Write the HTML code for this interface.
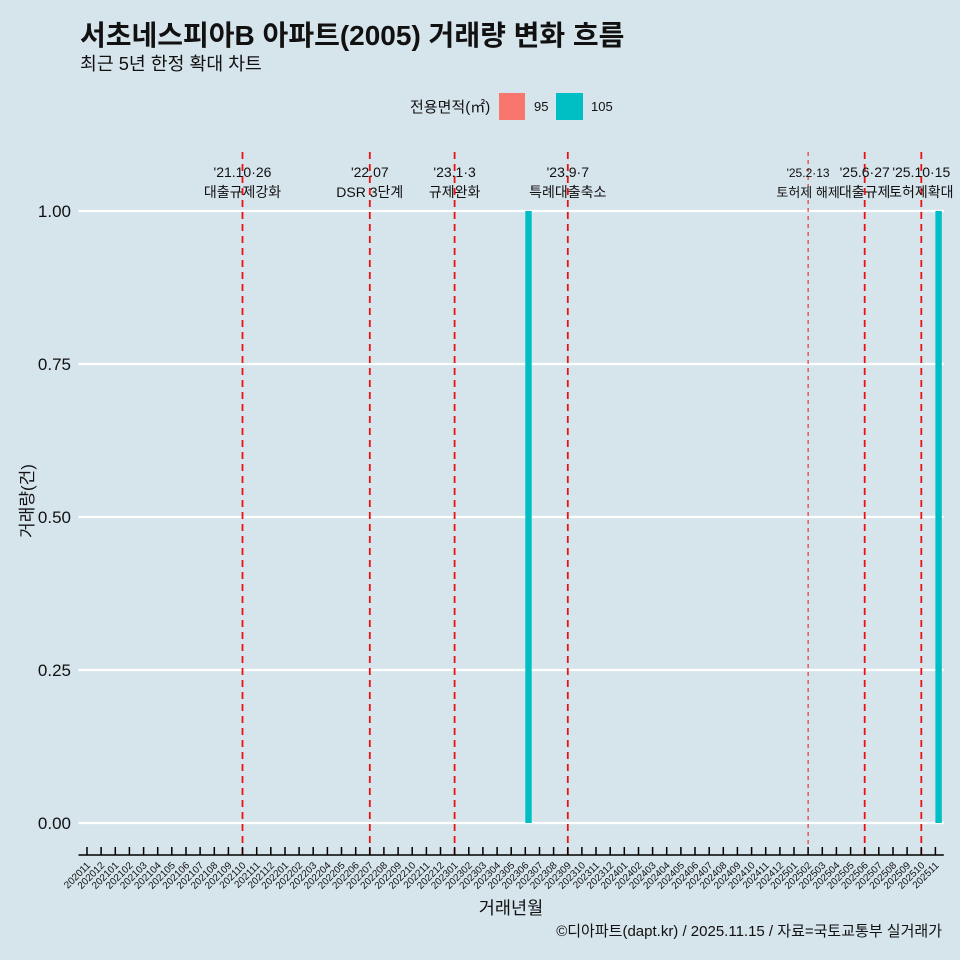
<!DOCTYPE html>
<html><head><meta charset="utf-8"><style>
html,body{margin:0;padding:0;background:#d6e4eb;}
svg{display:block;}
text{font-family:"Liberation Sans","Noto Sans CJK KR",sans-serif;fill:#111;}
</style></head><body>
<svg width="960" height="960" viewBox="0 0 960 960" xmlns="http://www.w3.org/2000/svg">
<rect width="960" height="960" fill="#d6e4eb"/>
<text x="80" y="45" font-size="28" font-weight="bold" fill="#000">서초네스피아B 아파트(2005) 거래량 변화 흐름</text>
<text x="80" y="70" font-size="18.3">최근 5년 한정 확대 차트</text>
<text x="410" y="112" font-size="15">전용면적(㎡)</text>
<rect x="499" y="93" width="26" height="27" fill="#F8766D"/>
<text x="534" y="111" font-size="13">95</text>
<rect x="556" y="93" width="27" height="27" fill="#00BFC4"/>
<text x="591" y="111" font-size="13">105</text>
<g stroke="#ffffff" stroke-width="2.2">
<line x1="78.5" y1="211" x2="943.8" y2="211"/>
<line x1="78.5" y1="364" x2="943.8" y2="364"/>
<line x1="78.5" y1="517" x2="943.8" y2="517"/>
<line x1="78.5" y1="670" x2="943.8" y2="670"/>
<line x1="78.5" y1="823" x2="943.8" y2="823"/>
</g>
<g font-size="17" text-anchor="end">
<text x="71" y="217">1.00</text>
<text x="71" y="370">0.75</text>
<text x="71" y="523">0.50</text>
<text x="71" y="676">0.25</text>
<text x="71" y="829">0.00</text>
</g>
<text transform="translate(33,501) rotate(-90)" font-size="17" text-anchor="middle">거래량(건)</text>
<rect x="525.3" y="211" width="6.4" height="612" fill="#00BFC4"/>
<rect x="935.4" y="211" width="6.4" height="612" fill="#00BFC4"/>
<g stroke="#ee1111" stroke-width="1.8" stroke-dasharray="7 5">
<line x1="242.5" y1="152" x2="242.5" y2="855"/>
<line x1="369.8" y1="152" x2="369.8" y2="855"/>
<line x1="454.6" y1="152" x2="454.6" y2="855"/>
<line x1="567.8" y1="152" x2="567.8" y2="855"/>
<line x1="864.7" y1="152" x2="864.7" y2="855"/>
<line x1="921.3" y1="152" x2="921.3" y2="855"/>
</g>
<line x1="808.1" y1="152" x2="808.1" y2="855" stroke="#ee1111" stroke-width="1" stroke-dasharray="4 4"/>
<g text-anchor="middle">
<text x="242.5" y="177" font-size="14">'21.10·26</text>
<text x="242.5" y="197" font-size="14">대출규제강화</text>
<text x="369.8" y="177" font-size="14">'22.07</text>
<text x="369.8" y="197" font-size="14">DSR 3단계</text>
<text x="454.6" y="177" font-size="14">'23.1·3</text>
<text x="454.6" y="197" font-size="14">규제완화</text>
<text x="567.8" y="177" font-size="14">'23.9·7</text>
<text x="567.8" y="197" font-size="14">특례대출축소</text>
<text x="808.1" y="177" font-size="12">'25.2·13</text>
<text x="808.1" y="197" font-size="13">토허제 해제</text>
<text x="864.7" y="177" font-size="14">'25.6·27</text>
<text x="864.7" y="197" font-size="14">대출규제</text>
<text x="921.3" y="177" font-size="14">'25.10·15</text>
<text x="921.3" y="197" font-size="14">토허제확대</text>
</g>
<line x1="78.5" y1="855" x2="943.8" y2="855" stroke="#000" stroke-width="1.5"/>
<g stroke="#000" stroke-width="1.5">
<line x1="87.0" y1="847" x2="87.0" y2="855"/><line x1="101.1" y1="847" x2="101.1" y2="855"/><line x1="115.3" y1="847" x2="115.3" y2="855"/><line x1="129.4" y1="847" x2="129.4" y2="855"/><line x1="143.6" y1="847" x2="143.6" y2="855"/><line x1="157.7" y1="847" x2="157.7" y2="855"/><line x1="171.8" y1="847" x2="171.8" y2="855"/><line x1="186.0" y1="847" x2="186.0" y2="855"/><line x1="200.1" y1="847" x2="200.1" y2="855"/><line x1="214.3" y1="847" x2="214.3" y2="855"/><line x1="228.4" y1="847" x2="228.4" y2="855"/><line x1="242.5" y1="847" x2="242.5" y2="855"/><line x1="256.7" y1="847" x2="256.7" y2="855"/><line x1="270.8" y1="847" x2="270.8" y2="855"/><line x1="285.0" y1="847" x2="285.0" y2="855"/><line x1="299.1" y1="847" x2="299.1" y2="855"/><line x1="313.2" y1="847" x2="313.2" y2="855"/><line x1="327.4" y1="847" x2="327.4" y2="855"/><line x1="341.5" y1="847" x2="341.5" y2="855"/><line x1="355.7" y1="847" x2="355.7" y2="855"/><line x1="369.8" y1="847" x2="369.8" y2="855"/><line x1="383.9" y1="847" x2="383.9" y2="855"/><line x1="398.1" y1="847" x2="398.1" y2="855"/><line x1="412.2" y1="847" x2="412.2" y2="855"/><line x1="426.4" y1="847" x2="426.4" y2="855"/><line x1="440.5" y1="847" x2="440.5" y2="855"/><line x1="454.6" y1="847" x2="454.6" y2="855"/><line x1="468.8" y1="847" x2="468.8" y2="855"/><line x1="482.9" y1="847" x2="482.9" y2="855"/><line x1="497.1" y1="847" x2="497.1" y2="855"/><line x1="511.2" y1="847" x2="511.2" y2="855"/><line x1="525.3" y1="847" x2="525.3" y2="855"/><line x1="539.5" y1="847" x2="539.5" y2="855"/><line x1="553.6" y1="847" x2="553.6" y2="855"/><line x1="567.8" y1="847" x2="567.8" y2="855"/><line x1="581.9" y1="847" x2="581.9" y2="855"/><line x1="596.0" y1="847" x2="596.0" y2="855"/><line x1="610.2" y1="847" x2="610.2" y2="855"/><line x1="624.3" y1="847" x2="624.3" y2="855"/><line x1="638.5" y1="847" x2="638.5" y2="855"/><line x1="652.6" y1="847" x2="652.6" y2="855"/><line x1="666.7" y1="847" x2="666.7" y2="855"/><line x1="680.9" y1="847" x2="680.9" y2="855"/><line x1="695.0" y1="847" x2="695.0" y2="855"/><line x1="709.2" y1="847" x2="709.2" y2="855"/><line x1="723.3" y1="847" x2="723.3" y2="855"/><line x1="737.4" y1="847" x2="737.4" y2="855"/><line x1="751.6" y1="847" x2="751.6" y2="855"/><line x1="765.7" y1="847" x2="765.7" y2="855"/><line x1="779.9" y1="847" x2="779.9" y2="855"/><line x1="794.0" y1="847" x2="794.0" y2="855"/><line x1="808.1" y1="847" x2="808.1" y2="855"/><line x1="822.3" y1="847" x2="822.3" y2="855"/><line x1="836.4" y1="847" x2="836.4" y2="855"/><line x1="850.6" y1="847" x2="850.6" y2="855"/><line x1="864.7" y1="847" x2="864.7" y2="855"/><line x1="878.8" y1="847" x2="878.8" y2="855"/><line x1="893.0" y1="847" x2="893.0" y2="855"/><line x1="907.1" y1="847" x2="907.1" y2="855"/><line x1="921.3" y1="847" x2="921.3" y2="855"/><line x1="935.4" y1="847" x2="935.4" y2="855"/>
</g>
<g font-size="10" text-anchor="end">
<text transform="translate(91,866) rotate(-45)">202011</text>
<text transform="translate(105.1,866) rotate(-45)">202012</text>
<text transform="translate(119.3,866) rotate(-45)">202101</text>
<text transform="translate(133.4,866) rotate(-45)">202102</text>
<text transform="translate(147.6,866) rotate(-45)">202103</text>
<text transform="translate(161.7,866) rotate(-45)">202104</text>
<text transform="translate(175.8,866) rotate(-45)">202105</text>
<text transform="translate(190,866) rotate(-45)">202106</text>
<text transform="translate(204.1,866) rotate(-45)">202107</text>
<text transform="translate(218.3,866) rotate(-45)">202108</text>
<text transform="translate(232.4,866) rotate(-45)">202109</text>
<text transform="translate(246.5,866) rotate(-45)">202110</text>
<text transform="translate(260.7,866) rotate(-45)">202111</text>
<text transform="translate(274.8,866) rotate(-45)">202112</text>
<text transform="translate(289,866) rotate(-45)">202201</text>
<text transform="translate(303.1,866) rotate(-45)">202202</text>
<text transform="translate(317.2,866) rotate(-45)">202203</text>
<text transform="translate(331.4,866) rotate(-45)">202204</text>
<text transform="translate(345.5,866) rotate(-45)">202205</text>
<text transform="translate(359.7,866) rotate(-45)">202206</text>
<text transform="translate(373.8,866) rotate(-45)">202207</text>
<text transform="translate(387.9,866) rotate(-45)">202208</text>
<text transform="translate(402.1,866) rotate(-45)">202209</text>
<text transform="translate(416.2,866) rotate(-45)">202210</text>
<text transform="translate(430.4,866) rotate(-45)">202211</text>
<text transform="translate(444.5,866) rotate(-45)">202212</text>
<text transform="translate(458.6,866) rotate(-45)">202301</text>
<text transform="translate(472.8,866) rotate(-45)">202302</text>
<text transform="translate(486.9,866) rotate(-45)">202303</text>
<text transform="translate(501.1,866) rotate(-45)">202304</text>
<text transform="translate(515.2,866) rotate(-45)">202305</text>
<text transform="translate(529.3,866) rotate(-45)">202306</text>
<text transform="translate(543.5,866) rotate(-45)">202307</text>
<text transform="translate(557.6,866) rotate(-45)">202308</text>
<text transform="translate(571.8,866) rotate(-45)">202309</text>
<text transform="translate(585.9,866) rotate(-45)">202310</text>
<text transform="translate(600,866) rotate(-45)">202311</text>
<text transform="translate(614.2,866) rotate(-45)">202312</text>
<text transform="translate(628.3,866) rotate(-45)">202401</text>
<text transform="translate(642.5,866) rotate(-45)">202402</text>
<text transform="translate(656.6,866) rotate(-45)">202403</text>
<text transform="translate(670.7,866) rotate(-45)">202404</text>
<text transform="translate(684.9,866) rotate(-45)">202405</text>
<text transform="translate(699,866) rotate(-45)">202406</text>
<text transform="translate(713.2,866) rotate(-45)">202407</text>
<text transform="translate(727.3,866) rotate(-45)">202408</text>
<text transform="translate(741.4,866) rotate(-45)">202409</text>
<text transform="translate(755.6,866) rotate(-45)">202410</text>
<text transform="translate(769.7,866) rotate(-45)">202411</text>
<text transform="translate(783.9,866) rotate(-45)">202412</text>
<text transform="translate(798,866) rotate(-45)">202501</text>
<text transform="translate(812.1,866) rotate(-45)">202502</text>
<text transform="translate(826.3,866) rotate(-45)">202503</text>
<text transform="translate(840.4,866) rotate(-45)">202504</text>
<text transform="translate(854.6,866) rotate(-45)">202505</text>
<text transform="translate(868.7,866) rotate(-45)">202506</text>
<text transform="translate(882.8,866) rotate(-45)">202507</text>
<text transform="translate(897,866) rotate(-45)">202508</text>
<text transform="translate(911.1,866) rotate(-45)">202509</text>
<text transform="translate(925.3,866) rotate(-45)">202510</text>
<text transform="translate(939.4,866) rotate(-45)">202511</text>
</g>
<text x="511" y="914" font-size="17.5" text-anchor="middle">거래년월</text>
<text x="942" y="936" font-size="15" text-anchor="end">©디아파트(dapt.kr) / 2025.11.15 / 자료=국토교통부 실거래가</text>
</svg>
</body></html>
